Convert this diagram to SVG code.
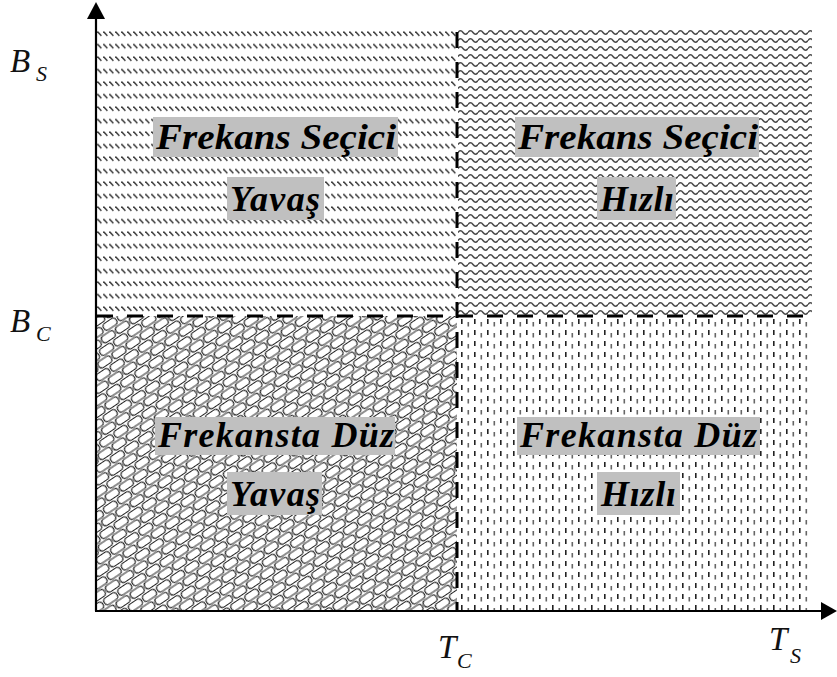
<svg xmlns="http://www.w3.org/2000/svg" width="837" height="677" viewBox="0 0 837 677">
  <style>
    .lbl { font-family: "Liberation Serif", "Times New Roman", serif; font-weight: bold; font-style: italic; font-size: 36px; fill: #000; }
    .box { fill: #c0c0c0; }
    .ax { font-family: "Liberation Serif", "Times New Roman", serif; font-style: italic; fill: #111; }
    .main { font-size: 33px; }
    .sub { font-size: 22px; }
    .axis { stroke: #000; stroke-width: 2.2; fill: none; }
    .dash { stroke: #000; stroke-width: 3; stroke-dasharray: 16 14; fill: none; }
  </style>
  <defs>
    <!-- rows of short back-slash strokes -->
    <pattern id="pSlash" x="97" y="31" width="6" height="12.5" patternUnits="userSpaceOnUse">
      <path d="M0.4,0.6 L4.4,4.8" stroke="#3a3a3a" stroke-width="1.5" fill="none"/>
    </pattern>
    <!-- horizontal wavy lines -->
    <pattern id="pWave" x="458" y="28" width="10" height="8" patternUnits="userSpaceOnUse">
      <path d="M0,4.5 Q2.5,1 5,4.5 T10,4.5" stroke="#4a4a4a" stroke-width="1.5" fill="none"/>
    </pattern>
    <!-- diagonal brick weave -->
    <pattern id="pBrick" x="97" y="316" width="17" height="19" patternUnits="userSpaceOnUse" patternTransform="rotate(-34)">
      <rect x="0" y="0" width="17" height="19" fill="#fff"/>
      <rect x="1" y="1" width="15" height="7.5" rx="3.5" fill="#fff" stroke="#222" stroke-width="1.2"/>
      <rect x="-7.5" y="10.5" width="15" height="7.5" rx="3.5" fill="#fff" stroke="#222" stroke-width="1.2"/>
      <rect x="9.5" y="10.5" width="15" height="7.5" rx="3.5" fill="#fff" stroke="#222" stroke-width="1.2"/>
    </pattern>
    <!-- staggered short vertical dashes -->
    <pattern id="pDots" x="459" y="318" width="13" height="11" patternUnits="userSpaceOnUse">
      <rect x="2" y="1" width="1.6" height="5" fill="#222"/>
      <rect x="8.5" y="4" width="1.6" height="4.5" fill="#666"/>
    </pattern>
  </defs>

  <rect width="837" height="677" fill="#fff"/>

  <!-- quadrant fills -->
  <g id="quadrants">
    <rect x="97" y="28" width="360" height="287" fill="url(#pSlash)"/>
    <rect x="458" y="28" width="354" height="287" fill="url(#pWave)"/>
    <rect x="97" y="316" width="360" height="294" fill="url(#pBrick)"/>
    <rect x="458" y="316" width="354" height="294" fill="url(#pDots)"/>
  </g>

  <!-- axes and threshold lines -->
  <g id="connectors">
    <line class="axis" x1="96" y1="611" x2="96" y2="16"/>
    <polygon points="96,2 87,19 105,19" fill="#000"/>
    <line class="axis" x1="95" y1="611" x2="823" y2="611"/>
    <polygon points="837,611 821,602 821,620" fill="#000"/>
    <line class="dash" x1="457" y1="32" x2="457" y2="611"/>
    <line class="dash" x1="97" y1="316" x2="812" y2="316"/>
  </g>

  <g id="node-tl">
    <rect class="box" x="153" y="117" width="245" height="40"/>
    <text class="lbl" x="156" y="149" textLength="240" lengthAdjust="spacingAndGlyphs">Frekans Seçici</text>
    <rect class="box" x="227" y="177" width="97" height="43"/>
    <text class="lbl" x="230" y="211" textLength="90" lengthAdjust="spacing">Yavaş</text>
  </g>

  <g id="node-tr">
    <rect class="box" x="515" y="117" width="244" height="40"/>
    <text class="lbl" x="518" y="149" textLength="240" lengthAdjust="spacingAndGlyphs">Frekans Seçici</text>
    <rect class="box" x="597" y="177" width="79" height="43"/>
    <text class="lbl" x="600" y="211" textLength="74" lengthAdjust="spacing">Hızlı</text>
  </g>

  <g id="node-bl">
    <rect class="box" x="155" y="417" width="240" height="38"/>
    <text class="lbl" x="158" y="447" textLength="236" lengthAdjust="spacing">Frekansta Düz</text>
    <rect class="box" x="227" y="472" width="95" height="43"/>
    <text class="lbl" x="230" y="506" textLength="90" lengthAdjust="spacing">Yavaş</text>
  </g>

  <g id="node-br">
    <rect class="box" x="517" y="417" width="243" height="38"/>
    <text class="lbl" x="520" y="447" textLength="237" lengthAdjust="spacing">Frekansta Düz</text>
    <rect class="box" x="597" y="472" width="83" height="43"/>
    <text class="lbl" x="601" y="506" textLength="75" lengthAdjust="spacing">Hızlı</text>
  </g>

  <!-- axis labels -->
  <g id="axis-labels">
    <text class="ax main" x="10" y="72">B</text>
    <text class="ax sub" x="36" y="81">S</text>
    <text class="ax main" x="10" y="332">B</text>
    <text class="ax sub" x="36" y="341">C</text>
    <text class="ax main" x="438" y="658">T</text>
    <text class="ax sub" x="457" y="668">C</text>
    <text class="ax main" x="769" y="650">T</text>
    <text class="ax sub" x="790" y="663">S</text>
  </g>
</svg>
